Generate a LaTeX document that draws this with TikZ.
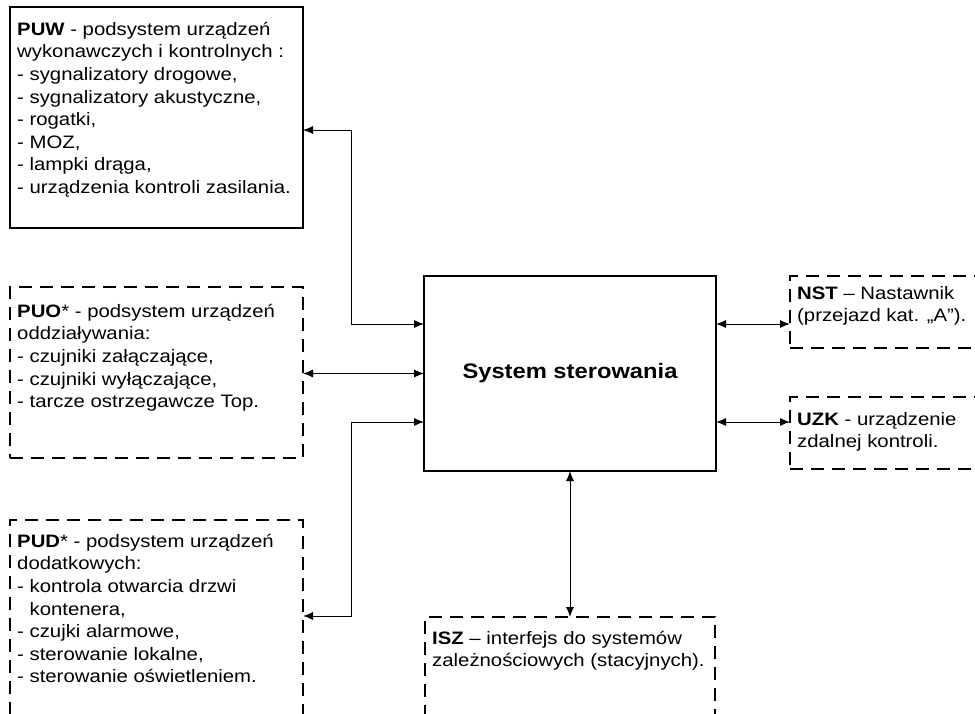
\documentclass[tikz,border=0pt]{standalone}
\usepackage{fontspec}
\setmainfont{Liberation Sans}[FakeStretch=1.13]
\usetikzlibrary{arrows.meta}
\newcommand{\topstrut}{\rule{0pt}{17pt}}
\begin{document}
\begin{tikzpicture}[x=1pt,y=-1pt,
  box/.style={draw, line width=2pt, anchor=north west, inner sep=0pt, outer sep=0pt},
  dbox/.style={box, dash pattern=on 13pt off 8pt},
  txt/.style={anchor=north west, inner sep=0pt, align=left, font=\fontsize{18}{22.6}\selectfont},
  link/.style={line width=1pt, {Latex[length=10pt,width=8pt]}-{Latex[length=10pt,width=8pt]}}]
\fill[white] (0,0) rectangle (975,713);
\useasboundingbox (0,0) rectangle (975,713);
\clip (0,0) rectangle (975,713);

% boxes
\node[box, minimum width=293pt, minimum height=221pt] (puw) at (10,7) {};
\node[dbox, minimum width=293pt, minimum height=171pt] (puo) at (10,287) {};
\node[dbox, minimum width=293pt, minimum height=240pt] (pud) at (10,520) {};
\node[dbox, minimum width=290pt, minimum height=130pt] (isz) at (425,617) {};
\node[dbox, minimum width=220pt, minimum height=72pt] (nst) at (790,276) {};
\node[dbox, minimum width=220pt, minimum height=72pt] (uzk) at (790,397) {};
\node[box, minimum width=292pt, minimum height=195pt, anchor=center,
      font=\bfseries\fontsize{21}{24}\selectfont] (sys) at (570,373.5) {System sterowania};

% texts
\node[txt] (puwt) at (17,18) {\topstrut\textbf{PUW} - podsystem urządzeń\\
wykonawczych i kontrolnych :\\
- sygnalizatory drogowe,\\
- sygnalizatory akustyczne,\\
- rogatki,\\
- MOZ,\\
- lampki drąga,\\
- urządzenia kontroli zasilania.};

\node[txt] (puot) at (17,300) {\topstrut\textbf{PUO}* - podsystem urządzeń\\
oddziaływania:\\
- czujniki załączające,\\
- czujniki wyłączające,\\
- tarcze ostrzegawcze Top.};

\node[txt] (pudt) at (17,530) {\topstrut\textbf{PUD}* - podsystem urządzeń\\
dodatkowych:\\
- kontrola otwarcia drzwi\\
\hphantom{- }kontenera,\\
- czujki alarmowe,\\
- sterowanie lokalne,\\
- sterowanie oświetleniem.};

\node[txt] (iszt) at (432,627) {\topstrut\textbf{ISZ} – interfejs do systemów\\
zależnościowych (stacyjnych).};

\node[txt] (nstt) at (797,282) {\topstrut\textbf{NST} – Nastawnik\\
(przejazd kat. „A”).};

\node[txt] (uzkt) at (797,408) {\topstrut\textbf{UZK} - urządzenie\\
zdalnej kontroli.};

% connectors
\coordinate (a1) at (351,130);
\coordinate (a2) at (351,324);
\coordinate (a3) at (351,422);
\coordinate (a4) at (351,616);
\coordinate (r1) at (750,324);
\coordinate (r2) at (750,422);
\draw[link] (puw.east |- a1) -- (a1) -- (a2) -- (sys.west |- a2);
\draw[link] (puo.east |- sys.west) -- (sys.west);
\draw[link] (sys.west |- a3) -- (a3) -- (a4) -- (pud.east |- a4);
\draw[link] (sys.south) -- (isz.north);
\draw[link] (sys.east |- r1) -- (nst.west |- r1);
\draw[link] (sys.east |- r2) -- (uzk.west |- r2);
\end{tikzpicture}
\end{document}
